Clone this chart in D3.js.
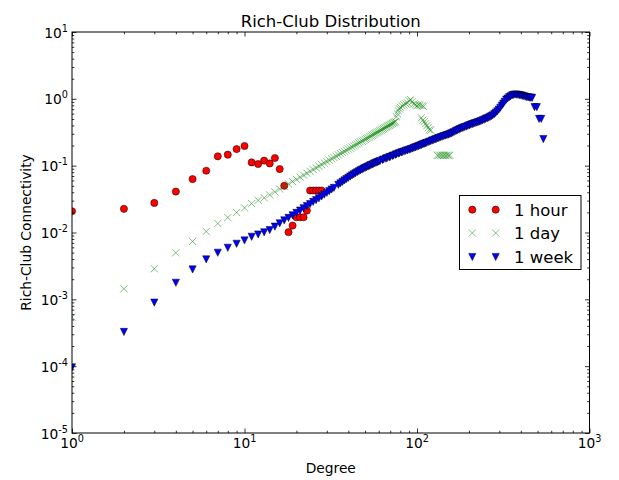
<!DOCTYPE html>
<html>
<head>
<meta charset="utf-8">
<script src="https://cdn.jsdelivr.net/npm/d3@7"></script>
<style>
  body { margin: 0; background: #fff; }
  text { font-family: "DejaVu Sans", sans-serif; fill: #000; }
</style>
</head>
<body>
<div id="chart"></div>
<script>
// --- data ---
const hourDegree = [1,2,3,4,5,6,7,8,9,10,11,12,13,14,15,16,17,18,19,20,21,22,23,24,25,26,27,28]
const hourValue = [0.0208,0.0226,0.0277,0.041,0.063,0.084,0.138,0.146,0.177,0.197,0.112,0.106,0.119,0.108,0.130,0.089,0.050,0.0101,0.0127,0.0169,0.0169,0.0169,0.0213,0.0425,0.0425,0.0425,0.0425,0.0425]

const dayDegree = [1,2,3,4,5,6,7,8,9,10,11,12,13,14,15,16,17,18,19,20,21,22,23,24,25,
  26,27,28,29,30,31,32,33,34,35,36,37,38,39,40,41,42,43,44,45,46,47,48,49,50,
  51,52,53,54,55,56,57,58,59,60,61,62,63,64,65,66,67,68,69,70,71,72,73,74,75,
  76,77,78,79,80,82,84,86,88,90,92,94,96,98,100,102,104,107,109,
  106,108,110,112,114,116,118,120,
  131,134,137,140,143,146,149,152,155]
const dayValue = [5.4e-4,1.44e-3,2.87e-3,4.98e-3,7.35e-3,0.01035,0.01362,0.01675,0.0199,0.0234,0.0271,0.0303,0.0330,0.0365,0.0406,0.0448,0.0490,0.0533,0.0579,0.0625,0.0673,0.0721,0.0771,0.0822,0.0875,
  0.0927,0.0983,0.1038,0.1093,0.1151,0.1208,0.1268,0.1325,0.1387,0.1449,0.1511,0.1575,0.164,0.1703,0.177,0.1837,0.1908,0.1975,0.2043,0.2113,0.2183,0.2256,0.233,0.2403,0.2477,
  0.2551,0.2626,0.270,0.2774,0.2858,0.2943,0.302,0.3097,0.3174,0.3251,0.3335,0.342,0.3505,0.359,0.3672,0.3756,0.3843,0.393,0.4018,0.4105,0.4193,0.428,0.437,0.446,0.455,
  0.539,0.597,0.662,0.709,0.747,0.786,0.813,0.842,0.872,0.934,0.966,0.902,0.842,0.813,0.786,0.813,0.80,0.79,0.773,
  0.52,0.48,0.454,0.424,0.396,0.369,0.344,0.339,
  0.143,0.143,0.143,0.143,0.143,0.143,0.143,0.143,0.143]

const weekDegree = [1,2,3,4,5,6,7,8,9,10,11,12,13,14,15,16,17,18,19,20,21,22,23,24,25,
  26,27,28,29,30,31,32,33,35,36,37,38,39,40,41,42,43,44,45,46,47,48,49,50,51,52,53,54,55,56,57,58,59,
  60,61,63,64,66,67,69,70,72,73,75,76,78,79,81,82,84,86,88,90,92,94,96,98,
  100,102,104,106,108,110,112,114,117,119,122,124,127,129,132,134,137,140,143,146,149,152,155,158,
  161,164,168,171,175,178,182,185,189,193,197,201,205,209,213,217,222,226,231,235,240,245,250,255,
  260,265,270,275,281,286,292,298,304,310,316,322,329,335,342,349,356,363,370,377,385,392,400,408,
  416,424,433,441,450,457,465,480,495,510,525,540]
const weekValue = [9.6e-5,3.25e-4,8.93e-4,1.77e-3,2.80e-3,3.96e-3,4.98e-3,5.91e-3,6.78e-3,7.60e-3,8.63e-3,9.33e-3,0.01007,0.01089,0.01225,0.01371,0.01517,0.01652,0.01807,0.01963,0.0213,0.02306,0.02488,0.02663,0.02864,
  0.03048,0.03251,0.03459,0.03681,0.03917,0.0415,0.04397,0.04645,0.05164,0.05445,0.0573,0.0601,0.0629,0.0658,0.0687,0.0716,0.0743,0.077,0.0797,0.0825,0.085,0.0875,0.090,0.0924,0.0947,0.097,0.0993,0.1017,0.104,0.1064,0.1086,0.1109,0.113,
  0.1151,0.1173,0.1216,0.1236,0.1276,0.1295,0.1334,0.1355,0.1396,0.1416,0.1455,0.1476,0.1517,0.1536,0.1574,0.1592,0.1629,0.1664,0.1698,0.1731,0.1763,0.1804,0.1845,0.1883,
  0.1922,0.196,0.200,0.204,0.208,0.212,0.216,0.220,0.226,0.230,0.236,0.240,0.246,0.250,0.256,0.260,0.266,0.271,0.277,0.282,0.287,0.292,0.297,0.304,
  0.311,0.319,0.328,0.337,0.346,0.354,0.363,0.370,0.377,0.385,0.394,0.402,0.410,0.417,0.425,0.432,0.440,0.448,0.457,0.466,0.476,0.488,0.500,0.511,
  0.523,0.536,0.550,0.568,0.591,0.618,0.651,0.690,0.736,0.790,0.845,0.905,0.970,1.01,1.057,1.09,1.128,1.145,1.159,1.153,1.147,1.136,1.124,1.11,
  1.094,1.077,1.06,1.05,1.042,1.038,1.035,0.75,0.75,0.5,0.5,0.25]

const xTickValues = [1, 10, 100, 1000]
const xTickExponents = ['0', '1', '2', '3']
const yTickValues = [1e-5, 1e-4, 1e-3, 1e-2, 1e-1, 1, 10]
const yTickExponents = ['-5', '-4', '-3', '-2', '-1', '0', '1']
const seriesNames = ['1 hour', '1 day', '1 week']

// --- layout ---
const W = 619, H = 480
const plot = { left: 72, right: 589.5, top: 32, bottom: 433 }

const svg = d3.select('#chart').append('svg')
  .attr('width', W).attr('height', H)

const x = d3.scaleLog().domain([1, 1000]).range([plot.left, plot.right])
const y = d3.scaleLog().domain([1e-5, 10]).range([plot.bottom, plot.top])

svg.append('defs').append('clipPath').attr('id', 'clip')
  .append('rect')
  .attr('x', plot.left).attr('y', plot.top)
  .attr('width', plot.right - plot.left).attr('height', plot.bottom - plot.top)

// marker painters
const ms = 3.6
function circleMarker(g) {
  g.append('circle').attr('r', ms)
    .attr('fill', '#ff0000').attr('stroke', '#000').attr('stroke-width', 0.5)
}
function crossMarker(g) {
  g.append('path').attr('d', `M${-ms},${-ms}L${ms},${ms}M${-ms},${ms}L${ms},${-ms}`)
    .attr('fill', 'none').attr('stroke', '#008000').attr('stroke-width', 1)
    .attr('stroke-opacity', 0.5)
}
function triMarker(g) {
  g.append('path').attr('d', `M${-ms},${-ms}L${ms},${-ms}L0,${ms}Z`)
    .attr('fill', '#0000ff').attr('stroke', '#000').attr('stroke-width', 0.5)
}

const marks = svg.append('g').attr('clip-path', 'url(#clip)')

function drawSeries(degs, vals, painter) {
  const data = degs.map((d, i) => ({ d, v: vals[i] }))
  marks.append('g').selectAll('g')
    .data(data)
    .enter()
    .append('g')
    .attr('transform', p => `translate(${x(p.d)},${y(p.v)})`)
    .each(function () { painter(d3.select(this)) })
}

drawSeries(hourDegree, hourValue, circleMarker)
drawSeries(dayDegree, dayValue, crossMarker)
drawSeries(weekDegree, weekValue, triMarker)

// --- axes: inward ticks on all four sides ---
const isMajor = v => Math.abs(Math.log10(v) - Math.round(Math.log10(v))) < 1e-9
const xMinor = x.ticks().filter(v => !isMajor(v))
const yMinor = y.ticks().filter(v => !isMajor(v))

function tickAxis(axis, tr, vals, size) {
  svg.append('g')
    .attr('transform', tr)
    .call(axis.tickValues(vals).tickSize(size).tickFormat(''))
    .call(g => g.select('.domain').remove())
    .selectAll('line').attr('stroke', '#000').attr('stroke-width', 0.8)
}
tickAxis(d3.axisBottom(x), `translate(0,${plot.bottom})`, xTickValues, -4.5)
tickAxis(d3.axisBottom(x), `translate(0,${plot.bottom})`, xMinor, -2.3)
tickAxis(d3.axisTop(x), `translate(0,${plot.top})`, xTickValues, -4.5)
tickAxis(d3.axisTop(x), `translate(0,${plot.top})`, xMinor, -2.3)
tickAxis(d3.axisLeft(y), `translate(${plot.left},0)`, yTickValues, -4.5)
tickAxis(d3.axisLeft(y), `translate(${plot.left},0)`, yMinor, -2.3)
tickAxis(d3.axisRight(y), `translate(${plot.right},0)`, yTickValues, -4.5)
tickAxis(d3.axisRight(y), `translate(${plot.right},0)`, yMinor, -2.3)

svg.append('rect')
  .attr('x', plot.left).attr('y', plot.top)
  .attr('width', plot.right - plot.left).attr('height', plot.bottom - plot.top)
  .attr('fill', 'none').attr('stroke', '#000').attr('stroke-width', 1)

// tick labels with superscript exponents
const fs = 13.8
xTickValues.forEach((v, i) => {
  const t = svg.append('text')
    .attr('x', x(v)).attr('y', 447.5)
    .attr('text-anchor', 'middle').attr('font-size', fs)
  t.append('tspan').text('10')
  t.append('tspan').attr('dy', -6).attr('font-size', 9.7).text(xTickExponents[i])
})
yTickValues.forEach((v, i) => {
  const t = svg.append('text')
    .attr('x', 68).attr('y', y(v) + 5.5)
    .attr('text-anchor', 'end').attr('font-size', fs)
  t.append('tspan').text('10')
  t.append('tspan').attr('dy', -6).attr('font-size', 9.7).text(yTickExponents[i])
})

// titles
svg.append('text')
  .attr('x', (plot.left + plot.right) / 2).attr('y', 26.5)
  .attr('text-anchor', 'middle').attr('font-size', 16.5)
  .text('Rich-Club Distribution')

svg.append('text')
  .attr('x', (plot.left + plot.right) / 2).attr('y', 473)
  .attr('text-anchor', 'middle').attr('font-size', fs)
  .text('Degree')

svg.append('text')
  .attr('transform', `translate(31,${(plot.top + plot.bottom) / 2}) rotate(-90)`)
  .attr('text-anchor', 'middle').attr('font-size', fs)
  .text('Rich-Club Connectivity')

// legend
const legend = svg.append('g')
legend.append('rect')
  .attr('x', 459.5).attr('y', 195.5).attr('width', 121.5).attr('height', 74)
  .attr('fill', '#fff').attr('stroke', '#000').attr('stroke-width', 1)

const painters = [circleMarker, crossMarker, triMarker]
const rowY = [209.7, 233, 257]
seriesNames.forEach((name, i) => {
  [472.3, 495.7].forEach(mx => {
    const g = legend.append('g').attr('transform', `translate(${mx},${rowY[i]})`)
    painters[i](g)
  })
  legend.append('text')
    .attr('x', 514).attr('y', rowY[i] + 6)
    .attr('font-size', 16.5)
    .text(name)
})
</script>
</body>
</html>
